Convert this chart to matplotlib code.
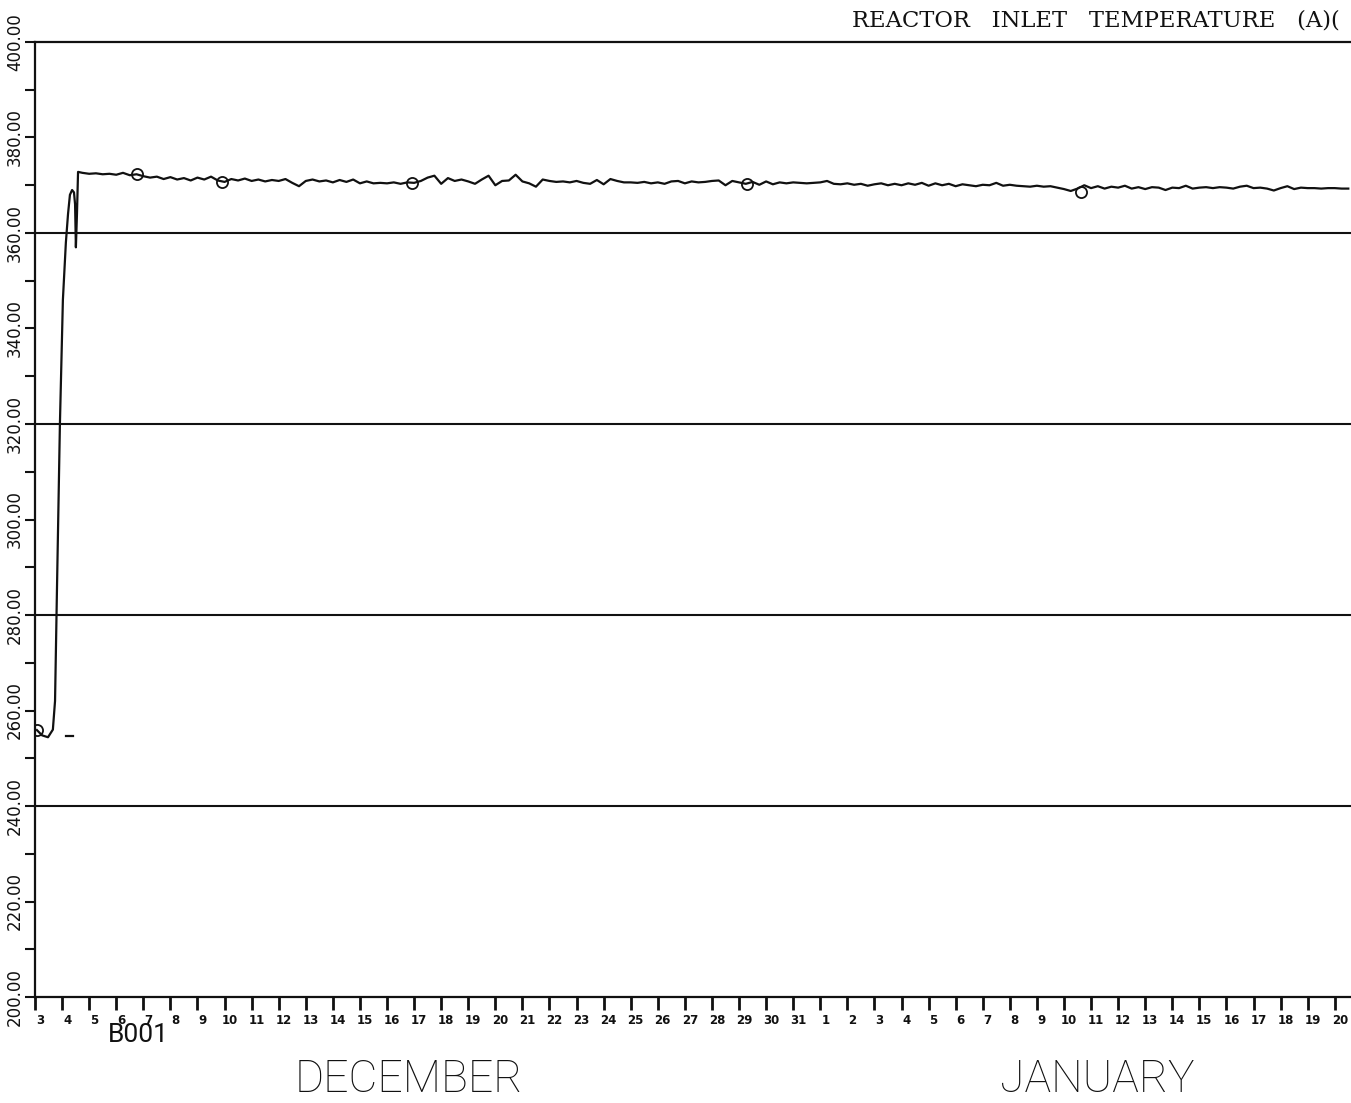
import numpy as np
import matplotlib
matplotlib.use("Agg")
import matplotlib.pyplot as plt
from matplotlib.transforms import ScaledTranslation

# ---- data -------------------------------------------------------------
# day index counted from December 3 (0) to January 20 (48)
dec_days = list(range(3, 32))
jan_days = list(range(1, 21))
tick_labels = [str(d) for d in dec_days + jan_days]

# start-up ramp
ramp_days = [0.07, 0.26, 0.48, 0.66, 0.74, 0.77, 0.81, 0.92, 1.03, 1.14, 1.22,
             1.29, 1.37, 1.44, 1.48, 1.51, 1.55, 1.59]
ramp_temps = [255.9, 254.8, 254.4, 256.0, 262.0, 272.0, 285.0, 320.0, 346.0,
              358.0, 364.0, 368.0, 369.0, 368.5, 366.0, 357.0, 364.0, 372.8]

# steady operation, sampled every quarter day from day 1.75
steady_start, steady_step = 1.75, 0.25
steady_temps = [
    372.6, 372.4, 372.5, 372.3, 372.4, 372.2, 372.6, 372.1, 372.3, 371.9,
    371.6, 371.8, 371.3, 371.7, 371.2, 371.5, 371.0, 371.6, 371.2, 371.8,
    371.0, 370.7, 371.3, 371.0, 371.4, 370.9, 371.2, 370.8, 371.1, 370.9,
    371.3, 370.5, 369.8, 370.9, 371.2, 370.8, 371.0, 370.6, 371.1, 370.7,
    371.2, 370.4, 370.8, 370.4, 370.5, 370.4, 370.6, 370.3, 370.6, 370.5,
    370.9, 371.6, 372.0, 370.3, 371.5, 370.9, 371.2, 370.8, 370.3, 371.2,
    372.0, 370.0, 370.9, 371.0, 372.2, 370.8, 370.4, 369.7, 371.2, 370.9,
    370.7, 370.8, 370.6, 370.9, 370.5, 370.3, 371.1, 370.2, 371.3, 370.9,
    370.6, 370.6, 370.5, 370.7, 370.4, 370.6, 370.3, 370.8, 370.9, 370.4,
    370.8, 370.6, 370.7, 370.9, 371.0, 370.0, 370.9, 370.6, 370.3, 370.7,
    370.1, 370.8, 370.2, 370.6, 370.4, 370.6, 370.5, 370.4, 370.5, 370.6,
    370.9, 370.3, 370.2, 370.4, 370.1, 370.3, 369.9, 370.2, 370.4, 370.0,
    370.3, 370.0, 370.4, 370.1, 370.5, 369.9, 370.4, 370.0, 370.3, 369.8,
    370.2, 370.0, 369.8, 370.1, 370.0, 370.5, 369.9, 370.1, 369.9, 369.8,
    369.7, 369.9, 369.7, 369.8, 369.5, 369.2, 368.8, 369.3, 370.0, 369.4,
    369.8, 369.3, 369.7, 369.5, 369.9, 369.3, 369.6, 369.2, 369.6, 369.5,
    369.0, 369.5, 369.4, 369.9, 369.3, 369.5, 369.6, 369.4, 369.6, 369.5,
    369.3, 369.7, 369.9, 369.4, 369.5, 369.3, 368.9, 369.4, 369.8, 369.2,
    369.5, 369.4, 369.4, 369.3, 369.4, 369.4, 369.3, 369.3,
]
steady_days = steady_start + steady_step * np.arange(len(steady_temps))

# plotting-symbol positions along the trace
marker_days = [0.07, 3.77, 6.91, 13.93, 26.30, 38.64]
marker_temps = [255.9, 372.3, 370.7, 370.5, 370.3, 368.6]

# short stray segment near the start
stray_days = [1.15, 1.40]
stray_temps = [254.7, 254.7]

grid_levels = [240, 280, 320, 360]

# ---- figure -----------------------------------------------------------
W, H = 1351, 1103
fig = plt.figure(figsize=(W / 100, H / 100), dpi=100)
ax = fig.add_axes([35 / W, (H - 997) / H, (W - 35) / W, 955 / H])

ink = "#111111"
lw = 1.6

days = np.concatenate([ramp_days, steady_days])
temps = np.concatenate([ramp_temps, steady_temps])
ax.plot(days, temps, color=ink, lw=lw, solid_joinstyle="round", zorder=3)
ax.plot(stray_days, stray_temps, color=ink, lw=lw, zorder=3)
ax.plot(marker_days, marker_temps, linestyle="none", marker="o", ms=8,
        mfc="none", mec=ink, mew=1.3, zorder=4)

for g in grid_levels:
    ax.axhline(g, color=ink, lw=1.5, zorder=2)

ax.set_xlim(0, 48.6)
ax.set_ylim(200, 400)

for side in ("left", "bottom", "top"):
    ax.spines[side].set_linewidth(1.6)
    ax.spines[side].set_color(ink)
ax.spines["right"].set_visible(False)

# y axis: labels every 20, ticks every 10
ax.set_yticks(np.arange(200, 401, 20))
ax.set_yticks(np.arange(210, 400, 20), minor=True)
ax.set_yticklabels([f"{v:.2f}" for v in np.arange(200, 401, 20)],
                   rotation=90, va="center", fontsize=12, family="DejaVu Sans")
ax.tick_params(axis="y", which="both", direction="out", length=7, width=1.5,
               color=ink, pad=1, labelcolor=ink)

# x axis: one tick per day
ax.set_xticks(np.arange(len(tick_labels)))
ax.set_xticklabels(tick_labels, fontsize=8.5, fontweight="bold",
                   family="DejaVu Sans")
ax.tick_params(axis="x", direction="out", length=9, width=2, color=ink,
               pad=3, labelcolor=ink)
shift = ScaledTranslation(5 / 100, 0, fig.dpi_scale_trans)
for lab in ax.get_xticklabels():
    lab.set_transform(lab.get_transform() + shift)

# annotations
thin = dict(family=["Roboto", "DejaVu Sans"], color=ink)
fig.text(138 / W, 1 - 1035 / H, "B001", ha="center", va="center",
         fontsize=19, fontweight="normal", **thin)
fig.text(409 / W, 1 - 1080 / H, "DECEMBER", ha="center", va="center",
         fontsize=32, fontweight="light", **thin)
fig.text(1097 / W, 1 - 1080 / H, "JANUARY", ha="center", va="center",
         fontsize=32, fontweight="light", **thin)
fig.text(852 / W, 1 - 27 / H, "REACTOR   INLET   TEMPERATURE   (A)(",
         ha="left", va="baseline", fontsize=16.3,
         family=["DejaVu Serif"], color=ink)

fig.savefig("out.png", dpi=100, facecolor="white")
